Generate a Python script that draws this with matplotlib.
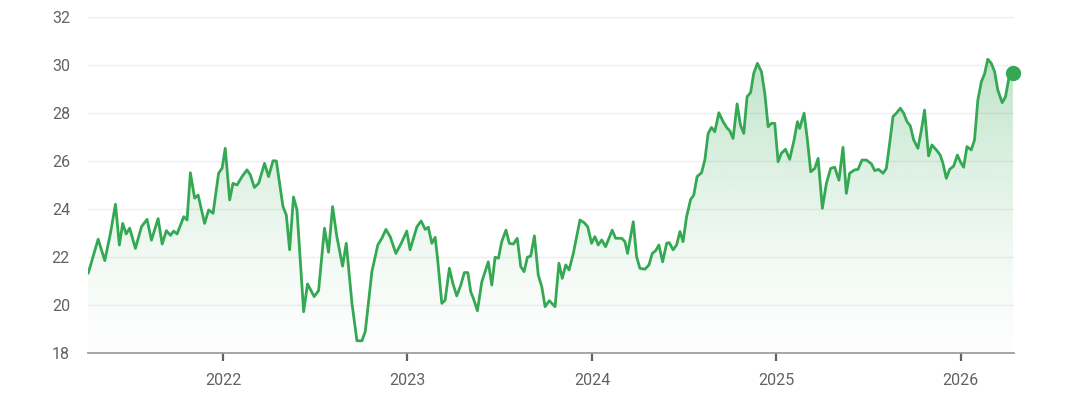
import numpy as np
import matplotlib
matplotlib.use("Agg")
import matplotlib.pyplot as plt
from matplotlib.patches import Polygon

plt.rcParams['font.family'] = ['Roboto', 'DejaVu Sans']

# Dates as decimal years
dates = [
    2021.269, 2021.323, 2021.359, 2021.390, 2021.417, 2021.438, 2021.456, 2021.475, 2021.494, 2021.525,
    2021.558, 2021.588, 2021.612, 2021.648, 2021.670, 2021.693, 2021.715, 2021.732, 2021.751, 2021.787,
    2021.805, 2021.823, 2021.846, 2021.865, 2021.900, 2021.922, 2021.946, 2021.976, 2021.995, 2022.012,
    2022.036, 2022.054, 2022.076, 2022.103, 2022.130, 2022.148, 2022.170, 2022.193, 2022.225, 2022.247,
    2022.271, 2022.289, 2022.325, 2022.343, 2022.361, 2022.382, 2022.401, 2022.437, 2022.458, 2022.494,
    2022.518, 2022.550, 2022.572, 2022.594, 2022.617, 2022.648, 2022.668, 2022.699, 2022.726, 2022.753,
    2022.771, 2022.807, 2022.839, 2022.861, 2022.883, 2022.906, 2022.937, 2022.966, 2022.996, 2023.014,
    2023.051, 2023.074, 2023.096, 2023.113, 2023.132, 2023.150, 2023.162, 2023.186, 2023.204, 2023.227,
    2023.246, 2023.267, 2023.289, 2023.308, 2023.327, 2023.343, 2023.357, 2023.379, 2023.403, 2023.438,
    2023.457, 2023.475, 2023.493, 2023.511, 2023.534, 2023.552, 2023.574, 2023.595, 2023.614, 2023.632,
    2023.650, 2023.668, 2023.688, 2023.709, 2023.728, 2023.746, 2023.769, 2023.800, 2023.821, 2023.839,
    2023.858, 2023.876, 2023.899, 2023.917, 2023.935, 2023.958, 2023.977, 2023.998, 2024.016, 2024.034,
    2024.053, 2024.074, 2024.110, 2024.128, 2024.161, 2024.179, 2024.193, 2024.224, 2024.242, 2024.260,
    2024.287, 2024.309, 2024.327, 2024.345, 2024.363, 2024.383, 2024.405, 2024.419, 2024.440, 2024.459,
    2024.477, 2024.494, 2024.513, 2024.535, 2024.552, 2024.570, 2024.594, 2024.612, 2024.630, 2024.648,
    2024.666, 2024.688, 2024.711, 2024.730, 2024.747, 2024.765, 2024.787, 2024.805, 2024.823, 2024.841,
    2024.860, 2024.877, 2024.897, 2024.919, 2024.937, 2024.955, 2024.973, 2024.991, 2025.009, 2025.027,
    2025.049, 2025.072, 2025.096, 2025.114, 2025.126, 2025.150, 2025.168, 2025.186, 2025.208, 2025.226,
    2025.249, 2025.271, 2025.294, 2025.316, 2025.339, 2025.361, 2025.379, 2025.397, 2025.424, 2025.442,
    2025.464, 2025.488, 2025.515, 2025.533, 2025.554, 2025.578, 2025.596, 2025.614, 2025.632, 2025.650,
    2025.672, 2025.690, 2025.708, 2025.726, 2025.744, 2025.767, 2025.786, 2025.803, 2025.825, 2025.843,
    2025.867, 2025.888, 2025.903, 2025.921, 2025.939, 2025.961, 2025.981, 2025.997, 2026.015, 2026.033,
    2026.056, 2026.074, 2026.092, 2026.111, 2026.128, 2026.146, 2026.165, 2026.183, 2026.200, 2026.224,
    2026.242, 2026.260, 2026.282,
]
values = [
    21.32, 22.74, 21.85, 23.00, 24.20, 22.50, 23.40, 22.96, 23.20, 22.36,
    23.26, 23.57, 22.70, 23.60, 22.54, 23.10, 22.90, 23.08, 22.96, 23.68,
    23.54, 25.51, 24.45, 24.58, 23.40, 23.96, 23.82, 25.49, 25.70, 26.53,
    24.38, 25.07, 25.00, 25.35, 25.63, 25.42, 24.90, 25.07, 25.90, 25.35,
    26.01, 26.00, 24.10, 23.75, 22.30, 24.50, 23.96, 19.72, 20.88, 20.35,
    20.60, 23.20, 22.20, 24.10, 22.85, 21.62, 22.57, 20.07, 18.51, 18.51,
    18.89, 21.39, 22.50, 22.78, 23.15, 22.85, 22.15, 22.57, 23.08, 22.30,
    23.26, 23.50, 23.15, 23.24, 22.57, 22.82, 22.01, 20.07, 20.20, 21.53,
    20.90, 20.38, 20.83, 21.35, 21.35, 20.55, 20.28, 19.76, 20.97, 21.80,
    20.83, 21.99, 21.95, 22.64, 23.12, 22.57, 22.54, 22.78, 21.60, 21.39,
    21.99, 22.04, 22.88, 21.25, 20.76, 19.93, 20.18, 19.93, 21.74, 21.11,
    21.67, 21.46, 22.15, 22.85, 23.54, 23.43, 23.26, 22.57, 22.85, 22.50,
    22.71, 22.43, 23.12, 22.78, 22.78, 22.64, 22.15, 23.47, 22.01, 21.53,
    21.49, 21.67, 22.15, 22.26, 22.50, 21.80, 22.57, 22.60, 22.30, 22.50,
    23.06, 22.64, 23.68, 24.40, 24.58, 25.35, 25.51, 26.04, 27.15, 27.40,
    27.22, 28.01, 27.64, 27.40, 27.26, 26.94, 28.38, 27.50, 27.15, 28.68,
    28.85, 29.65, 30.07, 29.72, 28.82, 27.43, 27.57, 27.57, 25.97, 26.32,
    26.49, 26.07, 26.88, 27.64, 27.36, 27.99, 26.88, 25.55, 25.69, 26.11,
    24.03, 25.07, 25.69, 25.74, 25.20, 26.57, 24.65, 25.49, 25.63, 25.65,
    26.04, 26.04, 25.88, 25.60, 25.65, 25.49, 25.69, 26.74, 27.85, 27.99,
    28.20, 27.99, 27.64, 27.46, 26.88, 26.53, 27.29, 28.12, 26.21, 26.67,
    26.46, 26.25, 25.90, 25.28, 25.65, 25.79, 26.25, 25.97, 25.74, 26.60,
    26.46, 26.88, 28.54, 29.30, 29.62, 30.24, 30.07, 29.72, 28.96, 28.43,
    28.68, 29.45, 29.68,
]
year_ticks = [2022, 2023, 2024, 2025, 2026]
year_labels = ["2022", "2023", "2024", "2025", "2026"]
y_ticks = [18, 20, 22, 24, 26, 28, 30, 32]

GREEN = "#34a853"
TEXT = "#5f6368"

fig = plt.figure(figsize=(10.72, 4.05), dpi=100)
ax = fig.add_axes([88/1072, 52/405, 926/1072, 336/405])

x = np.array(dates)
y = np.array(values)
x0, x1 = 2021.268, 2026.288
ax.set_xlim(x0, x1)
ax.set_ylim(18, 32)

# gradient fill under the line
ny = 400
yy = np.linspace(18, 32, ny)
alpha = 0.30 * np.clip((yy - 18) / 12.0, 0, None) ** 1.5 + 0.012
alpha = np.clip(alpha, 0, 0.32)
rgba = np.zeros((ny, 2, 4))
rgba[..., 0] = 52/255
rgba[..., 1] = 168/255
rgba[..., 2] = 83/255
rgba[..., 3] = alpha[:, None]
im = ax.imshow(rgba, extent=[x0, x1, 18, 32], origin='lower', aspect='auto', zorder=1, interpolation='bilinear')
poly = Polygon(np.column_stack([np.r_[x[0], x, x[-1]], np.r_[18, y, 18]]), closed=True,
               transform=ax.transData, facecolor='none', edgecolor='none')
ax.add_patch(poly)
im.set_clip_path(poly)

ax.plot(x, y, color=GREEN, lw=2.0, solid_joinstyle='round', solid_capstyle='round', zorder=3)
ax.plot([x[-1]], [y[-1]], 'o', color=GREEN, ms=10, zorder=4, clip_on=False)

ax.set_yticks(y_ticks)
ax.set_yticklabels([str(v) for v in y_ticks])
ax.set_xticks(year_ticks)
ax.set_xticklabels(year_labels)
for v in y_ticks[1:]:
    ax.axhline(v, color="#eeeeee", lw=1.0, zorder=0)

for s in ['top', 'right', 'left']:
    ax.spines[s].set_visible(False)
ax.spines['bottom'].set_color("#9e9e9e")
ax.spines['bottom'].set_linewidth(1.3)
ax.tick_params(axis='y', length=0, pad=13, labelsize=11.5, labelcolor=TEXT)
ax.tick_params(axis='x', length=5.5, width=1.6, color="#5f6368", pad=9, labelsize=11.5, labelcolor=TEXT)
ax.set_facecolor('white')

fig.savefig("out.png", dpi=100, facecolor='white')
